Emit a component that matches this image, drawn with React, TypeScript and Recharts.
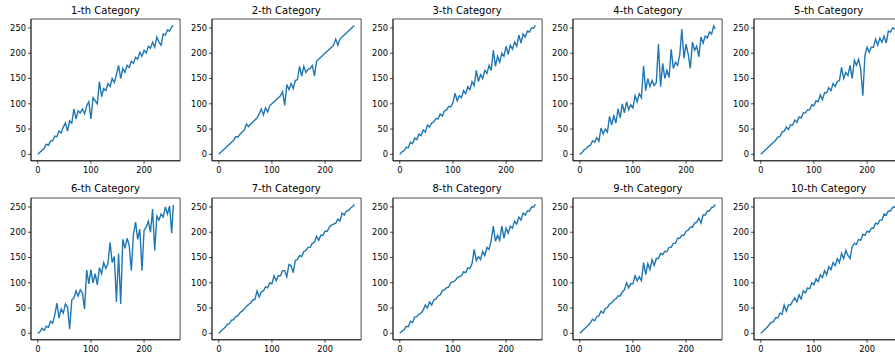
import React from "react";
import { LineChart, Line, XAxis, YAxis, ReferenceArea } from "recharts";

// shared x positions (every 4th sample of 0..255)
const xs = [
  0, 4, 8, 12, 16, 20, 24, 28, 32, 36, 40, 44, 48, 52, 56, 60,
  64, 68, 72, 76, 80, 84, 88, 92, 96, 100, 104, 108, 112, 116, 120, 124,
  128, 132, 136, 140, 144, 148, 152, 156, 160, 164, 168, 172, 176, 180, 184, 188,
  192, 196, 200, 204, 208, 212, 216, 220, 224, 228, 232, 236, 240, 244, 248, 252,
  255,
];

const titles = [
  "1-th Category", "2-th Category", "3-th Category", "4-th Category", "5-th Category",
  "6-th Category", "7-th Category", "8-th Category", "9-th Category", "10-th Category",
];

const cat1 = [
  0, 4, 8, 12, 20, 18, 26, 27, 36, 35, 46, 42, 54, 62, 46, 66,
  62, 90, 70, 86, 82, 90, 80, 96, 104, 70, 112, 106, 100, 144, 114, 130,
  126, 140, 134, 150, 142, 158, 176, 150, 170, 162, 176, 172, 184, 180, 192, 188,
  202, 194, 206, 200, 214, 210, 222, 212, 232, 222, 216, 238, 236, 246, 244, 252,
  255,
];
const cat2 = [
  0, 4, 8, 12, 16, 20, 24, 28, 35, 34, 40, 44, 48, 60, 55, 60,
  64, 68, 72, 80, 90, 78, 92, 84, 96, 100, 104, 108, 112, 116, 124, 97,
  138, 128, 140, 130, 146, 148, 174, 155, 174, 162, 168, 170, 176, 155, 184, 188,
  192, 196, 200, 204, 208, 212, 216, 228, 216, 228, 232, 236, 240, 244, 248, 252,
  255,
];
const cat3 = [
  0, 5, 7, 14, 13, 24, 21, 32, 29, 40, 37, 48, 44, 58, 54, 62,
  64, 71, 70, 80, 76, 86, 88, 95, 94, 102, 121, 106, 116, 112, 126, 120,
  134, 128, 144, 136, 166, 144, 158, 150, 166, 160, 176, 166, 206, 174, 194, 182,
  200, 194, 214, 198, 216, 208, 222, 214, 236, 220, 238, 232, 244, 242, 250, 250,
  255,
];
const cat4 = [
  0, 3, 9, 11, 16, 18, 27, 24, 33, 26, 52, 40, 50, 44, 75, 58,
  76, 62, 90, 72, 100, 82, 104, 88, 98, 92, 116, 104, 120, 112, 175, 126,
  150, 134, 146, 136, 142, 218, 134, 180, 150, 166, 152, 208, 170, 182, 176, 196,
  248, 190, 218, 198, 170, 222, 206, 214, 193, 232, 220, 234, 230, 242, 238, 254,
  248,
];
const cat5 = [
  0, 4, 8, 12, 16, 20, 24, 28, 34, 35, 44, 46, 54, 49, 58, 58,
  68, 63, 74, 72, 82, 82, 88, 88, 98, 96, 106, 104, 118, 108, 122, 122,
  132, 126, 140, 134, 144, 146, 172, 150, 162, 156, 176, 150, 186, 176, 188, 168,
  116, 196, 212, 202, 212, 212, 228, 216, 230, 222, 234, 220, 244, 242, 250, 248,
  252,
];
const cat6 = [
  0, 3, 10, 6, 14, 12, 24, 20, 36, 60, 30, 48, 40, 58, 52, 8,
  66, 70, 84, 74, 86, 80, 48, 125, 98, 126, 100, 118, 96, 130, 118, 140,
  128, 138, 180, 140, 152, 62, 158, 58, 186, 168, 188, 174, 124, 196, 220, 186,
  206, 124, 204, 210, 222, 200, 246, 164, 232, 224, 236, 230, 250, 236, 252, 198,
  254,
];
const cat7 = [
  0, 4, 8, 12, 18, 19, 26, 27, 33, 35, 41, 44, 48, 53, 57, 60,
  66, 67, 84, 72, 82, 84, 92, 90, 100, 98, 114, 104, 114, 114, 124, 124,
  112, 136, 134, 120, 144, 146, 154, 152, 162, 164, 170, 170, 178, 180, 192, 184,
  194, 194, 202, 202, 210, 214, 216, 218, 226, 222, 238, 234, 242, 243, 248, 251,
  255,
];
const cat8 = [
  0, 4, 7, 14, 13, 24, 21, 32, 33, 38, 40, 46, 56, 50, 62, 56,
  66, 68, 74, 76, 84, 86, 90, 92, 100, 102, 104, 110, 112, 114, 122, 120,
  130, 128, 138, 166, 144, 152, 146, 162, 154, 170, 166, 184, 212, 182, 194, 184,
  212, 188, 208, 198, 212, 208, 222, 216, 230, 224, 238, 234, 242, 242, 250, 250,
  255,
];
const cat9 = [
  0, 4, 8, 12, 16, 21, 28, 25, 33, 35, 44, 40, 49, 51, 58, 60,
  66, 68, 74, 74, 82, 86, 100, 90, 98, 98, 114, 104, 112, 104, 140, 116,
  138, 126, 146, 134, 148, 148, 158, 156, 162, 162, 170, 170, 178, 178, 188, 188,
  194, 194, 202, 204, 210, 210, 218, 220, 228, 218, 234, 234, 242, 242, 249, 250,
  255,
];
const cat10 = [
  0, 4, 8, 12, 17, 22, 23, 31, 31, 40, 38, 56, 44, 56, 56, 64,
  70, 62, 76, 68, 84, 80, 90, 88, 100, 96, 108, 102, 116, 110, 124, 116,
  132, 126, 140, 134, 148, 140, 158, 148, 164, 154, 148, 172, 178, 176, 186, 184,
  196, 194, 202, 200, 208, 208, 218, 216, 224, 224, 236, 234, 242, 242, 249, 250,
  255,
];

const series = [cat1, cat2, cat3, cat4, cat5, cat6, cat7, cat8, cat9, cat10];

const xTicks = [0, 100, 200];
const yTicks = [0, 50, 100, 150, 200, 250];
const dom: [number, number] = [-12.75, 267.75];

const FONT = "'DejaVu Sans', sans-serif";
const PLOT_W = 149.1;
const PLOT_H = 141.8;
const Y_AXIS_W = 31;
const X_AXIS_H = 22;
const M = 5;

function Panel({ title, values, col, row }: { title: string; values: number[]; col: number; row: number }) {
  const plotLeft = 30.9 + col * 180.8;
  const plotTop = 19.3 + row * 178.4;
  const data = xs.map((x, i) => ({ x, y: values[i] }));
  const tickStyle = { fontSize: 8.33, fill: "#000", fontFamily: FONT };
  const lineStyle = { stroke: "#000", strokeWidth: 0.7 };

  return (
    <>
      <div
        style={{
          position: "absolute",
          left: plotLeft,
          top: plotTop - 13.5,
          width: PLOT_W,
          textAlign: "center",
          fontFamily: FONT,
          fontSize: 10,
          lineHeight: "10px",
          color: "#000",
          whiteSpace: "nowrap",
        }}
      >
        {title}
      </div>
      <div style={{ position: "absolute", left: plotLeft - Y_AXIS_W, top: plotTop - M }}>
        <LineChart
          width={Y_AXIS_W + PLOT_W + M}
          height={M + PLOT_H + X_AXIS_H}
          data={data}
          margin={{ top: M, right: M, left: 0, bottom: 0 }}
        >
          <XAxis
            dataKey="x"
            type="number"
            domain={dom}
            ticks={xTicks}
            interval={0}
            allowDataOverflow
            height={X_AXIS_H}
            tick={tickStyle}
            tickLine={lineStyle}
            axisLine={lineStyle}
            tickSize={3}
            tickMargin={3}
          />
          <YAxis
            type="number"
            domain={dom}
            ticks={yTicks}
            interval={0}
            allowDataOverflow
            width={Y_AXIS_W}
            tick={tickStyle}
            tickLine={lineStyle}
            axisLine={lineStyle}
            tickSize={3}
            tickMargin={2}
          />
          <Line
            type="linear"
            dataKey="y"
            stroke="#1f77b4"
            strokeWidth={1.4}
            dot={false}
            isAnimationActive={false}
          />
          <ReferenceArea
            x1={dom[0]}
            x2={dom[1]}
            y1={dom[0]}
            y2={dom[1]}
            fill="none"
            stroke="#000"
            strokeWidth={0.7}
            ifOverflow="visible"
          />
        </LineChart>
      </div>
    </>
  );
}

export default function App() {
  return (
    <div
      style={{
        position: "absolute",
        left: 0,
        top: 0,
        width: 895,
        height: 352,
        overflow: "hidden",
        background: "#fff",
      }}
    >
      {series.map((values, i) => (
        <Panel key={i} title={titles[i]} values={values} col={i % 5} row={Math.floor(i / 5)} />
      ))}
    </div>
  );
}
